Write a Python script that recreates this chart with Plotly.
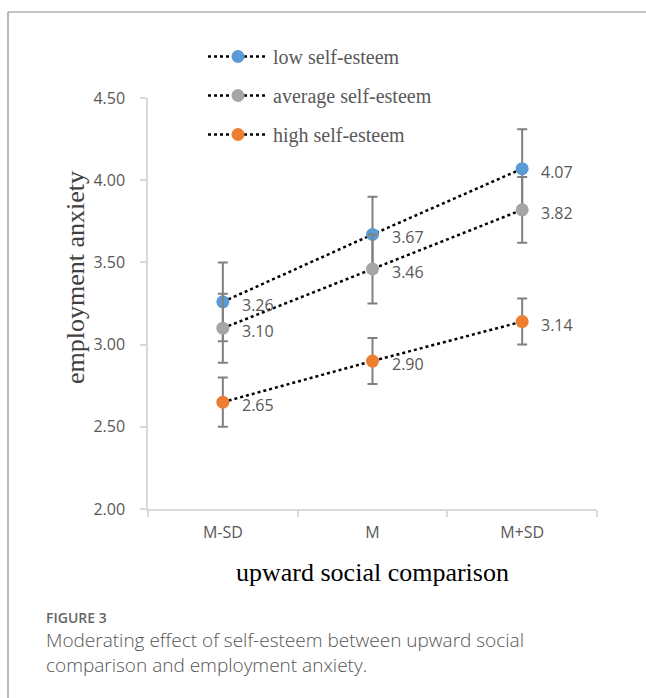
import plotly.graph_objects as go

categories = ["M-SD", "M", "M+SD"]
series_names = ["low self-esteem", "average self-esteem", "high self-esteem"]
low_vals = [3.26, 3.67, 4.07]
low_err = [0.24, 0.23, 0.24]
avg_vals = [3.10, 3.46, 3.82]
avg_err = [0.21, 0.21, 0.20]
high_vals = [2.65, 2.90, 3.14]
high_err = [0.15, 0.14, 0.14]
colors = ["#5B9BD5", "#A5A5A5", "#ED7D31"]
y_ticks = [2.0, 2.5, 3.0, 3.5, 4.0, 4.5]

W, H = 646, 698
L, R, T, B = 148, 49, 98, 189
PW, PH = W - L - R, H - T - B


def px(xp):
    return (xp - L) / PW


def py(yp):
    return (H - B - yp) / PH


fig = go.Figure()
for i, (name, vals, errs, col) in enumerate(zip(series_names, [low_vals, avg_vals, high_vals],
                                                [low_err, avg_err, high_err], colors)):
    fig.add_trace(go.Scatter(
        x=categories, y=vals, name=name, mode="lines+markers",
        line=dict(color="black", width=2.5, dash="dot"),
        marker=dict(color=col, size=13),
        error_y=dict(type="data", array=errs, visible=True, color="#808080", thickness=2, width=5),
        legendgroup=f"g{i}",
    ))
    for c, v in zip(categories, vals):
        fig.add_annotation(x=c, y=v, xref="x", yref="y", text=f"{v:.2f}", showarrow=False,
                           xanchor="left", yanchor="middle", xshift=17, yshift=-3,
                           font=dict(family="Open Sans", size=16, color="#595959"))

# y-axis title (placed as annotation to match its offset position)
fig.add_annotation(x=px(75), y=py(278), xref="paper", yref="paper", text="employment anxiety",
                   textangle=-90, showarrow=False, xanchor="center", yanchor="middle",
                   font=dict(family="Liberation Serif", size=26, color="#404040"))

# caption
fig.add_annotation(x=px(44), y=py(617), xref="paper", yref="paper", text="FIGURE 3", showarrow=False,
                   xanchor="left", yanchor="middle",
                   font=dict(family="Open Sans", size=14, color="#666666", weight=600))
fig.add_annotation(x=px(44), y=py(640), xref="paper", yref="paper",
                   text="Moderating effect of self-esteem between upward social", showarrow=False,
                   xanchor="left", yanchor="middle",
                   font=dict(family="Open Sans", size=19, color="#555555", weight=300))
fig.add_annotation(x=px(44), y=py(665), xref="paper", yref="paper",
                   text="comparison and employment anxiety.", showarrow=False,
                   xanchor="left", yanchor="middle",
                   font=dict(family="Open Sans", size=19, color="#555555", weight=300))

# frame
fig.add_shape(type="line", xref="paper", yref="paper", x0=px(8), x1=px(8), y0=py(12), y1=py(705),
              line=dict(color="#8a8a8a", width=1.2))
fig.add_shape(type="line", xref="paper", yref="paper", x0=px(8), x1=px(655), y0=py(12), y1=py(12),
              line=dict(color="#8a8a8a", width=1.2))

fig.update_layout(
    width=W, height=H,
    margin=dict(l=L, r=R, t=T, b=B),
    paper_bgcolor="white", plot_bgcolor="white",
    showlegend=True,
    legend=dict(x=px(203), y=py(37), xanchor="left", yanchor="top",
                font=dict(family="Liberation Serif", size=20, color="#595959"),
                bgcolor="rgba(0,0,0,0)", itemwidth=60, tracegroupgap=10),
    xaxis=dict(type="category", range=[-0.5, 2.5], showgrid=False, showline=True,
               linecolor="#d9d9d9", linewidth=1.5, ticks="outside", ticklen=6, tickcolor="#d9d9d9",
               tickwidth=1.5, tickson="boundaries", ticklabelstandoff=8,
               tickfont=dict(family="Open Sans", size=16, color="#595959"),
               title=dict(text="upward social comparison", standoff=21,
                          font=dict(family="Liberation Serif", size=26, color="black"))),
    yaxis=dict(range=[2.0, 4.5], tickvals=y_ticks, ticktext=[f"{v:.2f}" for v in y_ticks],
               showgrid=False, showline=True, zeroline=False,
               linecolor="#d9d9d9", linewidth=1.5, ticks="outside", ticklen=6, tickcolor="#d9d9d9",
               tickwidth=1.5, ticklabelstandoff=12,
               tickfont=dict(family="Open Sans", size=16, color="#595959")),
)

fig.write_html("out.html")
